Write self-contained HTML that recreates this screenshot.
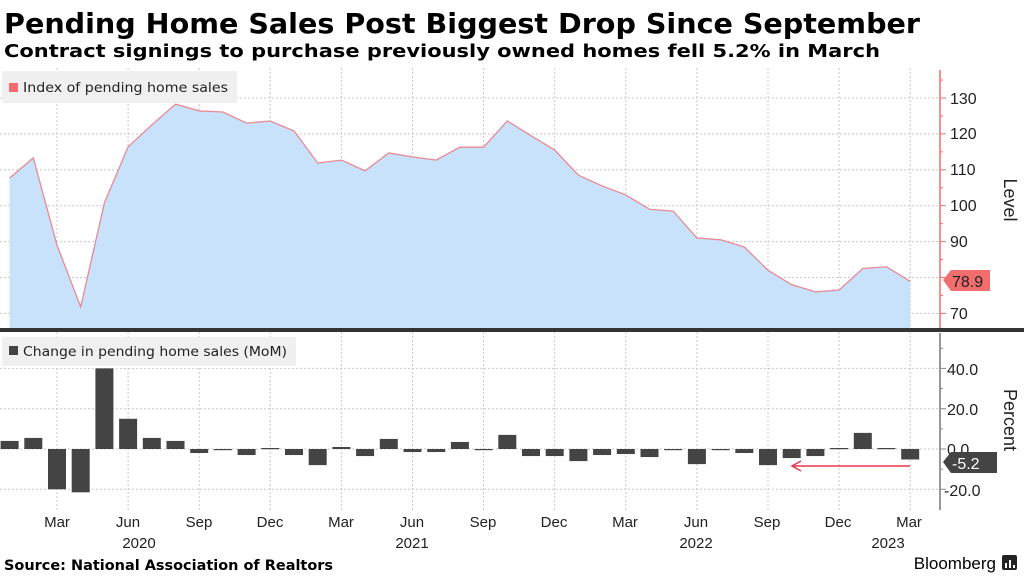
<!DOCTYPE html>
<html><head><meta charset="utf-8"><style>
body{margin:0;background:#fff;width:1024px;height:576px;overflow:hidden;font-family:"Liberation Sans",sans-serif}
</style></head><body>
<svg id="s" width="1024" height="576" xmlns="http://www.w3.org/2000/svg" font-family="Liberation Sans, sans-serif">
<text x="4" y="33" font-size="28" font-weight="bold" fill="#000" font-family="DejaVu Sans, sans-serif" textLength="916" lengthAdjust="spacingAndGlyphs">Pending Home Sales Post Biggest Drop Since September</text>
<text x="4" y="57" font-size="18" font-weight="bold" fill="#000" font-family="DejaVu Sans, sans-serif" textLength="876" lengthAdjust="spacingAndGlyphs">Contract signings to purchase previously owned homes fell 5.2% in March</text>
<g id="grid" stroke="#c8c8c8" stroke-dasharray="2,2" stroke-width="1"></g>
<g id="plot"></g>
<rect x="2" y="71" width="235" height="32" fill="#f0f0f0"/>
<rect x="9" y="83" width="9" height="9" fill="#f26d6d"/>
<text x="23" y="92" font-size="13.5" fill="#222" font-family="DejaVu Sans, sans-serif" textLength="205" lengthAdjust="spacingAndGlyphs">Index of pending home sales</text>
<rect x="2" y="337" width="294" height="29" fill="#f0f0f0"/>
<rect x="9" y="346" width="9" height="9" fill="#444"/>
<text x="23" y="356" font-size="13.5" fill="#222" font-family="DejaVu Sans, sans-serif" textLength="264" lengthAdjust="spacingAndGlyphs">Change in pending home sales (MoM)</text>
<rect x="0" y="328" width="1024" height="4" fill="#333"/>
<line x1="940" y1="70" x2="940" y2="328" stroke="#f26d6d" stroke-width="1.5"/>
<line x1="940" y1="333" x2="940" y2="510" stroke="#777" stroke-width="1.5"/>
<g id="ticks" stroke="#888" stroke-width="1"></g>
<g font-size="16" fill="#222">
<text x="950" y="104">130</text><text x="950" y="139">120</text><text x="950" y="175">110</text>
<text x="950" y="211">100</text><text x="950" y="247">90</text><text x="950" y="319">70</text>
<text x="947" y="375">40.0</text><text x="947" y="415">20.0</text><text x="947" y="455">0.0</text><text x="944" y="496">-20.0</text>
</g>
<text transform="translate(1004,200) rotate(90)" font-size="18" fill="#222" text-anchor="middle">Level</text>
<text transform="translate(1004,420) rotate(90)" font-size="18" fill="#222" text-anchor="middle">Percent</text>
<polygon points="943,280 951,270 990,270 990,291 951,291" fill="#f26d6d"/>
<text x="952" y="287" font-size="16" fill="#222">78.9</text>
<polygon points="943,462 951,452 997,452 997,473 951,473" fill="#444"/>
<text x="952" y="469" font-size="16" fill="#fff">-5.2</text>
<line x1="910" y1="466" x2="792" y2="466" stroke="#e8384f" stroke-width="1.5"/>
<polyline points="801,461 792,466 801,471" fill="none" stroke="#e8384f" stroke-width="1.5"/>
<g font-size="15" fill="#222" text-anchor="middle">
<text x="57" y="527">Mar</text><text x="128" y="527">Jun</text><text x="199" y="527">Sep</text><text x="270" y="527">Dec</text>
<text x="341" y="527">Mar</text><text x="412" y="527">Jun</text><text x="483" y="527">Sep</text><text x="554" y="527">Dec</text>
<text x="625" y="527">Mar</text><text x="696" y="527">Jun</text><text x="767" y="527">Sep</text><text x="838" y="527">Dec</text>
<text x="909" y="527">Mar</text>
<text x="139" y="548">2020</text><text x="412" y="548">2021</text><text x="696" y="548">2022</text><text x="888" y="548">2023</text>
</g>
<text x="4" y="570" font-size="14" font-weight="bold" fill="#000" font-family="DejaVu Sans, sans-serif" textLength="329" lengthAdjust="spacingAndGlyphs">Source: National Association of Realtors</text>
<text x="996" y="569" font-size="17" fill="#000" text-anchor="end">Bloomberg</text>
<rect x="1002" y="555" width="15" height="15" rx="2" fill="#222"/>
<rect x="1005" y="563" width="2" height="5" fill="#fff"/><rect x="1009" y="560" width="2" height="8" fill="#fff"/><rect x="1013" y="565" width="2" height="3" fill="#fff"/>
</svg>
<script>
var lv=[107.7,113.3,89,71.8,100.8,116.4,122.5,128.3,126.4,126.1,123,123.6,120.8,111.9,112.7,109.7,114.7,113.6,112.7,116.3,116.3,123.6,119.5,115.5,108.5,105.5,103,99,98.5,91,90.5,88.5,82,78,76,76.5,82.5,83,78.9];
var ch=[4,5.5,-20,-21.5,40,15,5.5,4,-2,-0.5,-3,0.5,-3,-8,1,-3.5,5,-1.5,-1.5,3.5,-0.5,7,-3.5,-3.5,-6,-3,-2.5,-4,-0.5,-7.5,-0.5,-2,-8,-4.5,-3.5,0.5,8,0.5,-5.2];
function X(i){return 9.6+i*23.7}
function Y1(v){return 98+(130-v)*3.59}
function Y2(v){return 449-v*2.015}
var ns="http://www.w3.org/2000/svg",g=document.getElementById('grid'),p=document.getElementById('plot'),tk=document.getElementById('ticks');
function el(par,t,a){var e=document.createElementNS(ns,t);for(var k in a)e.setAttribute(k,a[k]);par.appendChild(e);return e}
for(var v=70;v<=130;v+=10){el(g,'line',{x1:0,x2:940,y1:Y1(v),y2:Y1(v)});el(tk,'line',{x1:940,x2:946,y1:Y1(v),y2:Y1(v),stroke:'#f26d6d'});el(tk,'line',{x1:940,x2:943,y1:Y1(v+5),y2:Y1(v+5),stroke:'#f26d6d'});}
for(var v=-20;v<=40;v+=20){el(g,'line',{x1:0,x2:940,y1:Y2(v),y2:Y2(v)});el(tk,'line',{x1:940,x2:946,y1:Y2(v),y2:Y2(v)});el(tk,'line',{x1:940,x2:943,y1:Y2(v+10),y2:Y2(v+10)});}
for(var i=2;i<39;i+=3)el(g,'line',{x1:X(i),x2:X(i),y1:68,y2:512});
var pts=lv.map(function(v,i){return X(i)+','+Y1(v)}).join(' ');
el(p,'polygon',{points:X(0)+',328 '+pts+' '+X(38)+',328',fill:'#c9e2fb'});
el(p,'polyline',{points:pts,fill:'none',stroke:'#e88a95','stroke-width':1.3});
ch.forEach(function(v,i){var y=Math.min(Y2(v),449),h=Math.max(Math.abs(v)*2.015,1.2);el(p,'rect',{x:X(i)-9,y:y,width:18,height:h,fill:'#444'})});
</script>
</body></html>
